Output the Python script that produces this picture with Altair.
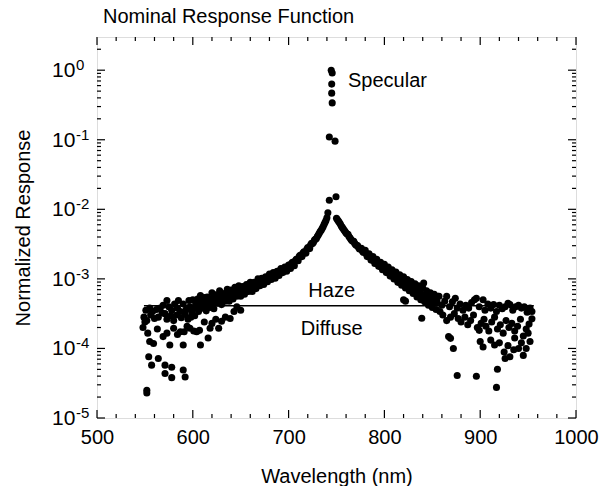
import altair as alt
import pandas as pd
import numpy as np

# ---------------- data: wavelength (nm) and log10(normalized response)
peak_nm = [744.5, 745.5, 745, 745, 745.5, 742.5, 748.5, 742.5, 749.5]
peak_log = [0.0, -0.04, -0.20, -0.33, -0.47, -0.96, -1.02, -1.87, -1.82]

left_band_nm = [600, 601, 602, 603, 604, 605, 606, 607, 608, 609,
                610, 611, 612, 613, 614, 615, 616, 617, 618, 619,
                620, 621, 622, 623, 624, 625, 626, 627, 628, 629,
                630, 631, 632, 633, 634, 635, 636, 637, 638, 639,
                640, 641, 642, 643, 644, 645, 646, 647, 648, 649,
                650, 651, 652, 653, 654, 655, 656, 657, 658, 659,
                660, 661, 662, 663, 664, 665, 666, 667, 668, 669,
                670, 671, 672, 673, 674, 675, 676, 677, 678, 679,
                680, 681, 682, 683, 684, 685, 686, 687, 688, 689,
                690, 691, 692, 693, 694, 695, 696, 697, 698, 699,
                700, 701, 702, 703, 704, 705, 706, 707, 708, 709,
                710, 711, 712, 713, 714, 715, 716, 717, 718, 719,
                720, 721, 722, 723, 724, 725, 726, 727, 728, 729,
                730, 731, 732, 733, 734, 735, 736, 737, 738, 739,
                740, 741]
left_band_log = [-3.30, -3.42, -3.53, -3.36, -3.33, -3.29, -3.47, -3.40, -3.24, -3.35,
                 -3.42, -3.31, -3.27, -3.38, -3.46, -3.26, -3.30, -3.36, -3.41, -3.29,
                 -3.20, -3.36, -3.43, -3.27, -3.23, -3.31, -3.35, -3.24, -3.17, -3.29,
                 -3.37, -3.21, -3.22, -3.27, -3.32, -3.20, -3.15, -3.26, -3.32, -3.19,
                 -3.16, -3.24, -3.29, -3.17, -3.12, -3.21, -3.25, -3.15, -3.10, -3.20,
                 -3.25, -3.13, -3.11, -3.17, -3.22, -3.12, -3.08, -3.16, -3.18, -3.10,
                 -3.05, -3.14, -3.18, -3.08, -3.05, -3.11, -3.14, -3.05, -3.00, -3.08,
                 -3.10, -3.02, -2.99, -3.05, -3.08, -2.99, -2.97, -3.02, -3.04, -2.97,
                 -2.93, -2.98, -3.01, -2.94, -2.91, -2.96, -2.99, -2.91, -2.89, -2.93,
                 -2.95, -2.88, -2.85, -2.90, -2.91, -2.86, -2.83, -2.87, -2.89, -2.83,
                 -2.80, -2.81, -2.85, -2.78, -2.76, -2.78, -2.81, -2.74, -2.72, -2.72,
                 -2.74, -2.68, -2.66, -2.67, -2.68, -2.63, -2.61, -2.62, -2.63, -2.575,
                 -2.55, -2.56, -2.565, -2.51, -2.49, -2.49, -2.475, -2.44, -2.43, -2.42,
                 -2.39, -2.37, -2.345, -2.32, -2.30, -2.275, -2.25, -2.22, -2.19, -2.16,
                 -2.12, -2.05]

right_band_nm = [750, 751, 752, 753, 754, 755, 756, 757, 758, 759,
                 760, 761, 762, 763, 764, 765, 766, 767, 768, 769,
                 770, 771, 772, 773, 774, 775, 776, 777, 778, 779,
                 780, 781, 782, 783, 784, 785, 786, 787, 788, 789,
                 790, 791, 792, 793, 794, 795, 796, 797, 798, 799,
                 800, 801, 802, 803, 804, 805, 806, 807, 808, 809,
                 810, 811, 812, 813, 814, 815, 816, 817, 818, 819,
                 820, 821, 822, 823, 824, 825, 826, 827, 828, 829,
                 830, 831, 832, 833, 834, 835, 836, 837, 838, 839,
                 840, 841, 842, 843, 844, 845, 846, 847, 848, 849,
                 850, 851, 852, 853, 854, 855, 856]
right_band_log = [-2.13, -2.15, -2.17, -2.19, -2.21, -2.24, -2.26, -2.28, -2.30, -2.32,
                  -2.34, -2.355, -2.36, -2.39, -2.41, -2.43, -2.45, -2.46, -2.46, -2.49,
                  -2.51, -2.52, -2.52, -2.55, -2.57, -2.57, -2.56, -2.60, -2.62, -2.61,
                  -2.59, -2.64, -2.68, -2.66, -2.64, -2.69, -2.73, -2.70, -2.68, -2.74,
                  -2.78, -2.75, -2.72, -2.78, -2.82, -2.79, -2.76, -2.82, -2.87, -2.83,
                  -2.79, -2.86, -2.91, -2.87, -2.83, -2.90, -2.96, -2.91, -2.87, -2.94,
                  -3.00, -2.95, -2.90, -2.98, -3.05, -2.99, -2.94, -3.02, -3.09, -3.03,
                  -2.97, -3.06, -3.13, -3.07, -3.01, -3.09, -3.17, -3.10, -3.04, -3.13,
                  -3.21, -3.14, -3.07, -3.17, -3.26, -3.18, -3.10, -3.21, -3.30, -3.22,
                  -3.13, -3.24, -3.33, -3.25, -3.17, -3.28, -3.38, -3.28, -3.20, -3.31,
                  -3.41, -3.31, -3.22, -3.33, -3.44, -3.33, -3.25]

left_scatter_nm = [573, 585, 596, 604,
                   551, 555, 558, 562, 566, 569, 571, 575, 578, 581, 584, 587, 590, 593, 597, 599,
                   549, 552, 556, 560, 564, 568, 573, 577, 580, 583, 588, 592, 595, 598,
                   548, 550, 553, 555, 559, 563, 569, 573, 576, 580, 584, 587, 590, 591, 594, 597,
                   601, 604, 607, 608, 612, 616, 618, 620, 624, 627, 630, 634, 639, 643, 646, 650,
                   554, 564, 557, 571, 578, 571, 578, 590, 592,
                   552, 552]
left_scatter_log = [-3.31, -3.31, -3.31, -3.35,
                    -3.45, -3.42, -3.47, -3.44, -3.42, -3.38, -3.50, -3.40, -3.45, -3.36, -3.42, -3.47, -3.36, -3.44, -3.40, -3.48,
                    -3.55, -3.60, -3.52, -3.57, -3.55, -3.49, -3.58, -3.53, -3.60, -3.52, -3.56, -3.51, -3.58, -3.55,
                    -3.70, -3.62, -3.78, -3.90, -3.93, -3.72, -3.83, -3.78, -3.95, -3.71, -3.80, -3.76, -3.95, -3.76, -3.68, -3.71,
                    -3.75, -3.76, -3.74, -3.95, -3.62, -3.85, -3.71, -3.64, -3.58, -3.71, -3.61, -3.55, -3.57, -3.47, -3.40, -3.45,
                    -4.12, -4.145, -4.24, -4.24, -4.27, -4.36, -4.42, -4.31, -4.41,
                    -4.60, -4.64]

right_scatter_nm = [820, 827, 839, 822, 841,
                    842, 846, 850, 854, 857, 860, 863, 865, 868, 871,
                    874, 876, 879, 882, 885, 888, 891, 894, 896, 899,
                    903, 905, 908, 911, 914, 917, 920, 923, 926, 929,
                    931, 934, 937, 940, 943, 946, 949, 952, 954,
                    858, 861, 865, 869, 873, 877, 880, 884, 887, 890,
                    893, 897, 899, 901, 904, 906, 909, 912, 915, 918,
                    921, 924, 927, 930, 933, 936, 939, 942, 945, 948,
                    951, 954, 950, 936,
                    867, 872, 869, 900, 903, 911, 915, 920, 925, 929,
                    926, 931, 935, 940, 945, 948, 943, 952,
                    876, 896, 918, 917]
right_scatter_log = [-3.30, -3.06, -3.565, -3.32, -3.06,
                     -3.28, -3.22, -3.35, -3.30, -3.25, -3.38, -3.32, -3.25, -3.40, -3.33,
                     -3.28, -3.42, -3.36, -3.45, -3.38, -3.42, -3.34, -3.30, -3.28, -3.40,
                     -3.30, -3.45, -3.36, -3.42, -3.37, -3.47, -3.38, -3.43, -3.40, -3.35,
                     -3.37, -3.45, -3.40, -3.38, -3.42, -3.40, -3.48, -3.42, -3.47,
                     -3.47, -3.52, -3.60, -3.55, -3.50, -3.57, -3.62, -3.55, -3.66, -3.60,
                     -3.52, -3.70, -3.74, -3.64, -3.58, -3.68, -3.75, -3.62, -3.55, -3.72,
                     -3.66, -3.78, -3.60, -3.70, -3.64, -3.75, -3.68, -3.58, -3.82, -3.72,
                     -3.65, -3.575, -3.78, -3.85,
                     -3.83, -4.00, -3.855, -3.90, -3.98, -3.88, -3.95, -3.92, -4.05, -3.96,
                     -4.145, -4.12, -4.02, -4.00, -4.10, -4.00, -3.92, -3.90,
                     -4.39, -4.40, -4.30, -4.56]

# haze level line and annotations
haze_start, haze_end, haze_level = 549, 956, 4.1e-4
annot_text = ["Specular", "Haze", "Diffuse"]
annot_nm = [762, 745, 745]
annot_resp = [0.57, 5.5e-4, 1.56e-4]

# axis ticks
x_major = [500, 600, 700, 800, 900, 1000]
x_minor = [v for v in range(520, 1000, 20) if v % 100 != 0]
y_decades = [1e-5, 1e-4, 1e-3, 1e-2, 1e-1, 1.0]
y_exponents = ["-5", "-4", "-3", "-2", "-1", "0"]
y_minor = [m * d for d in y_decades for m in range(2, 10) if m * d < 3]

# ---------------- build tables
nm_all = np.concatenate([peak_nm, left_band_nm, right_band_nm, left_scatter_nm, right_scatter_nm]).astype(float)
log_all = np.concatenate([peak_log, left_band_log, right_band_log, left_scatter_log, right_scatter_log]).astype(float)
df = pd.DataFrame({"wavelength": nm_all, "response": 10.0 ** log_all})

W, H = 479, 381
FONT = "Liberation Sans"
xs = alt.Scale(domain=[500, 1000], nice=False, zero=False)
ys = alt.Scale(type="log", domain=[1e-5, 3], nice=False)

XAX = alt.Axis(values=x_major, format="d", labelFontSize=20, labelFont=FONT,
               labelColor="black", labelPadding=9, labelFlush=False, labelOverlap=False,
               ticks=False, domain=False, grid=False,
               title="Wavelength (nm)", titleFontSize=20, titleFont=FONT,
               titleFontWeight="normal", titleColor="black",
               titleY=64, titleBaseline="alphabetic")
YAX = alt.Axis(labels=False, ticks=False, domain=False, grid=False,
               title="Normalized Response", titleFontSize=20, titleFont=FONT,
               titleFontWeight="normal", titleColor="black", titleAngle=-90,
               titleX=-68, titleY=H / 2, titleAlign="center",
               titleBaseline="alphabetic")


def X(field):
    return alt.X(field, scale=xs, axis=XAX)


def Y(field):
    return alt.Y(field, scale=ys, axis=YAX)


points = alt.Chart(df).mark_circle(size=50, color="black", opacity=1).encode(
    x=X("wavelength:Q"), y=Y("response:Q"))

haze_df = pd.DataFrame({"x1": [haze_start], "x2": [haze_end], "y": [haze_level]})
haze = alt.Chart(haze_df).mark_rule(color="black", strokeWidth=1.5).encode(
    x=X("x1:Q"), x2="x2:Q", y=Y("y:Q"))

ann_df = pd.DataFrame({"wavelength": annot_nm, "response": annot_resp, "label": annot_text})
ann_left = alt.Chart(ann_df.iloc[:1]).mark_text(
    align="left", baseline="alphabetic", fontSize=20, font=FONT, color="black").encode(
    x=X("wavelength:Q"), y=Y("response:Q"), text="label:N")
ann_center = alt.Chart(ann_df.iloc[1:]).mark_text(
    align="center", baseline="alphabetic", fontSize=20, font=FONT, color="black").encode(
    x=X("wavelength:Q"), y=Y("response:Q"), text="label:N")

xmaj = pd.DataFrame({"t": x_major})
xmin = pd.DataFrame({"t": x_minor})
ymaj = pd.DataFrame({"v": y_decades, "exp": y_exponents})
ymin = pd.DataFrame({"v": y_minor})


def xtick(data, y0, y1):
    return alt.Chart(data).mark_rule(color="black", strokeWidth=1.2).encode(
        x=X("t:Q"), y=alt.value(y0), y2=alt.value(y1))


def ytick(data, x0, x1):
    return alt.Chart(data).mark_rule(color="black", strokeWidth=1.2).encode(
        y=Y("v:Q"), x=alt.value(x0), x2=alt.value(x1))


ticks = [
    xtick(xmaj, H, H - 8), xtick(xmaj, 0, 8),
    xtick(xmin, H, H - 4), xtick(xmin, 0, 4),
    ytick(ymaj, 0, 8), ytick(ymaj, W - 8, W),
    ytick(ymin, 0, 4), ytick(ymin, W - 4, W),
]

lab10 = alt.Chart(ymaj).mark_text(
    text="10", align="left", baseline="alphabetic", fontSize=21, font=FONT,
    color="black", dy=7).encode(x=alt.value(-45), y=Y("v:Q"))
labexp = alt.Chart(ymaj).mark_text(
    align="left", baseline="alphabetic", fontSize=15, font=FONT, color="black", dy=0).encode(
    x=alt.value(-21), y=Y("v:Q"), text="exp:N")

chart = alt.layer(points, haze, ann_left, ann_center, *ticks, lab10, labexp).properties(
    width=W, height=H,
    autosize=alt.AutoSizeParams(type="none"),
    padding={"left": 97, "top": 37, "right": 26, "bottom": 68},
    title=alt.TitleParams("Nominal Response Function", anchor="start", frame="group",
                          fontSize=20, font=FONT, fontWeight="normal", color="black",
                          dx=6, offset=9),
).configure_view(stroke="black", strokeWidth=1.5).configure(background="white")

chart.save("out.html", embed_options={"renderer": "svg", "actions": False})
